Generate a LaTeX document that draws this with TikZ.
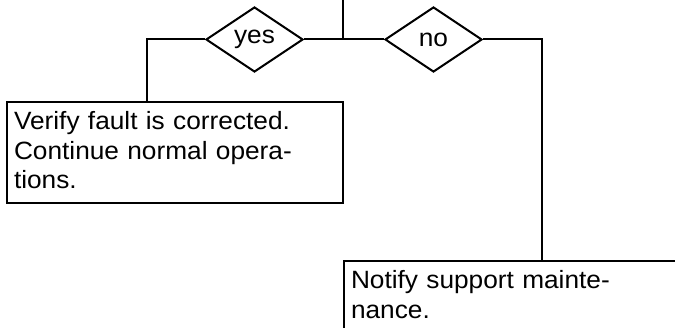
\documentclass[tikz,border=0pt]{standalone}
\usepackage{fontspec}
\setmainfont{Liberation Sans}[FakeStretch=1.05]
\usetikzlibrary{shapes.geometric, positioning, calc}

\begin{document}
\begin{tikzpicture}[x=1pt, y=1pt, line width=2pt,
  stepbox/.style={draw, anchor=north west, align=left, text width=322pt,
    inner xsep=7pt, inner ysep=10pt, text height=18pt, text depth=63pt,
    font=\fontsize{25}{29.5}\selectfont},
  choice/.style={draw, diamond, inner sep=0pt, minimum width=97pt,
    minimum height=65pt, font=\fontsize{25}{29.5}\selectfont}]
  \useasboundingbox (0,0) rectangle (675,328);
  \clip (0,0) rectangle (675,328);
  \coordinate (top) at (343,328);
  \node[choice] (yes) at (254.5,288.5) {\raisebox{-2pt}{yes}};
  \node[choice] (no) at (433.5,288.5) {no};
  \node[stepbox] (ok) at (6,227) {Verify fault is corrected.\\ Continue normal opera-\\ tions.};
  \node[stepbox] (notify) at (343,68) {Notify support mainte-\\ nance.};
  % branches
  \draw (top) -- (top |- yes.east);
  \draw (yes.east) -- (no.west);
  \draw (yes.west) -| ([xshift=-28pt]ok.north);
  \draw (no.east) -| ([xshift=30pt]notify.north);
\end{tikzpicture}
\end{document}
